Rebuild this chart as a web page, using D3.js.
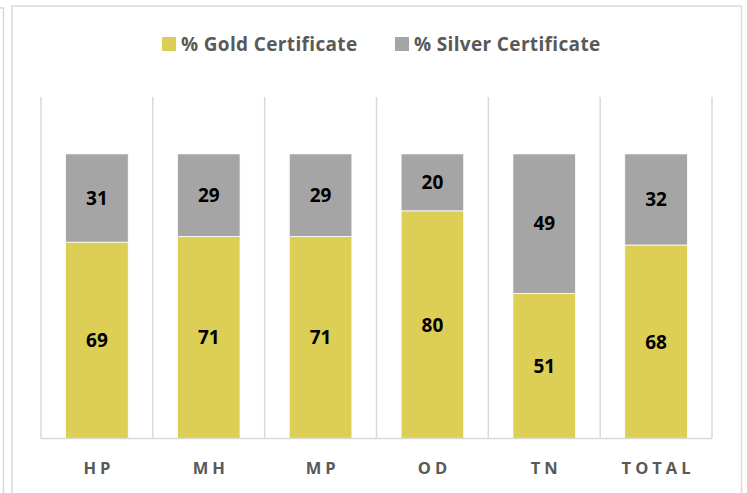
<!DOCTYPE html>
<html lang="en">
<head>
<meta charset="utf-8">
<title>certificates</title>
<script src="https://cdn.jsdelivr.net/npm/d3@7"></script>
<style>
  body { margin: 0; background: #fff; }
  svg { display: block; }
</style>
</head>
<body>
<script>
var w = 747;
var h = 493;

// data
var categories = ["HP", "MH", "MP", "OD", "TN", "TOTAL"];
var gold = [69, 71, 71, 80, 51, 68];
var silver = [31, 29, 29, 20, 49, 32];
var seriesNames = ["% Gold Certificate", "% Silver Certificate"];
var seriesColors = ["#DDCF56", "#A5A5A5"];

var plot = {left: 41, right: 712, top: 97, bottom: 438.5};
var font = "'Open Sans', sans-serif";

var svg = d3.select("body").append("svg")
    .attr("width", w)
    .attr("height", h);

// frames
svg.append("path")
    .attr("d", "M-10,8 L3.5,8 L3.5," + (h + 5))
    .attr("fill", "none")
    .attr("stroke", "#d9d9d9")
    .attr("stroke-width", 1.5);
svg.append("rect")
    .attr("x", 12).attr("y", 6)
    .attr("width", 729.5).attr("height", h + 20)
    .attr("fill", "#fff")
    .attr("stroke", "#d9d9d9")
    .attr("stroke-width", 1.5);

var xScale = d3.scaleBand()
    .domain(categories)
    .range([plot.left, plot.right])
    .paddingInner(0.44)
    .paddingOuter(0.22);

var yScale = d3.scaleLinear()
    .domain([0, 120])
    .range([plot.bottom, plot.top]);

// category separators
var seps = d3.range(categories.length + 1).map(function(i){ return plot.left + i * (plot.right - plot.left) / categories.length; });
svg.selectAll("line.sep")
    .data(seps)
    .enter()
    .append("line")
    .attr("class", "sep")
    .attr("x1", function(d){ return d; })
    .attr("x2", function(d){ return d; })
    .attr("y1", plot.top)
    .attr("y2", plot.bottom)
    .attr("stroke", "#d9d9d9")
    .attr("stroke-width", 1.5);

// stack
var rows = categories.map(function(c, i){ return {cat: c, gold: gold[i], silver: silver[i]}; });
var stacked = d3.stack().keys(["gold", "silver"])(rows);

var groups = svg.selectAll("g.series")
    .data(stacked)
    .enter()
    .append("g")
    .attr("class", "series")
    .attr("fill", function(d, i){ return seriesColors[i]; });

groups.selectAll("rect")
    .data(function(d){ return d; })
    .enter()
    .append("rect")
    .attr("x", function(d){ return xScale(d.data.cat); })
    .attr("width", xScale.bandwidth())
    .attr("y", function(d){ return yScale(d[1]); })
    .attr("height", function(d){ return yScale(d[0]) - yScale(d[1]); })
    .attr("stroke", "#fff")
    .attr("stroke-width", 0.75);

groups.selectAll("text")
    .data(function(d){ return d; })
    .enter()
    .append("text")
    .attr("x", function(d){ return xScale(d.data.cat) + xScale.bandwidth() / 2; })
    .attr("y", function(d){ return (yScale(d[0]) + yScale(d[1])) / 2; })
    .attr("dy", "0.36em")
    .attr("text-anchor", "middle")
    .attr("font-family", font)
    .attr("font-weight", "bold")
    .attr("font-size", 19)
    .attr("fill", "#000")
    .text(function(d){ return d[1] - d[0]; });

// x axis
var xAxis = d3.axisBottom(xScale).tickSize(0).tickPadding(24);
var gx = svg.append("g")
    .attr("transform", "translate(0," + plot.bottom + ")")
    .call(xAxis);
gx.select(".domain")
    .attr("d", "M" + plot.left + ",0H" + plot.right)
    .attr("stroke", "#d9d9d9")
    .attr("stroke-width", 1.5);
gx.selectAll("text")
    .attr("font-family", font)
    .attr("font-weight", "bold")
    .attr("font-size", 16.5)
    .attr("letter-spacing", "4px")
    .attr("fill", "#595959")
    .attr("dx", "2px");

// legend
var legend = svg.append("g");
var legendX = [162, 395];
seriesNames.forEach(function(name, i){
    legend.append("rect")
        .attr("x", legendX[i]).attr("y", 37)
        .attr("width", 14).attr("height", 14)
        .attr("fill", seriesColors[i]);
    legend.append("text")
        .attr("x", legendX[i] + 19).attr("y", 44.5)
        .attr("dy", "0.36em")
        .attr("font-family", font)
        .attr("font-weight", "bold")
        .attr("font-size", 19)
        .attr("letter-spacing", "0.35px")
        .attr("fill", "#595959")
        .text(name);
});
</script>
</body>
</html>
